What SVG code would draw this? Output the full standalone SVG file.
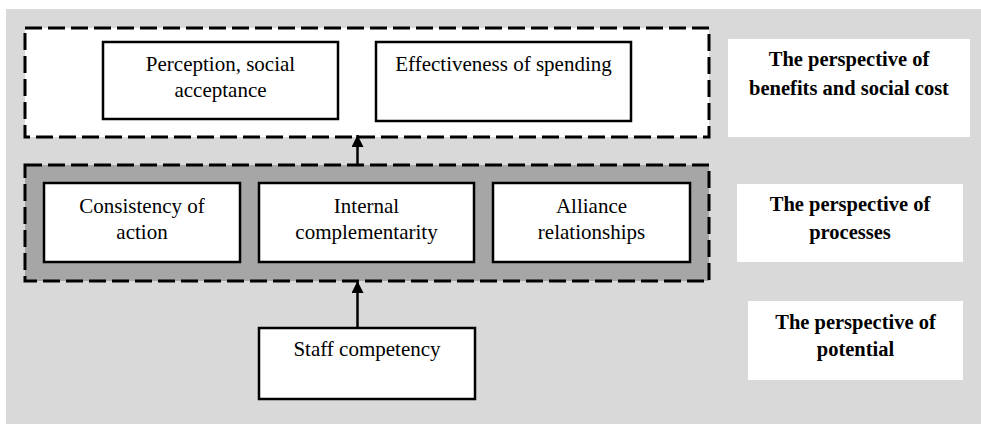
<svg xmlns="http://www.w3.org/2000/svg" width="981" height="424" viewBox="0 0 981 424">
<style>
.bg{fill:#d9d9d9}
.grp{stroke:#000;stroke-width:3;stroke-dasharray:17 6}
.box{fill:#fff;stroke:#000;stroke-width:2.5}
.lbl{fill:#fff;stroke:none}
text{font-family:"Liberation Serif","Times New Roman",serif;font-size:21px;fill:#000;text-anchor:middle}
.b{font-weight:bold;font-size:20.5px}
.conn{stroke:#000;stroke-width:2.5;fill:none}
</style>
<defs>
<marker id="ah" viewBox="0 0 12 12" refX="12" refY="6" markerWidth="12" markerHeight="12" markerUnits="userSpaceOnUse" orient="auto">
<path d="M0,0 L12,6 L0,12 Z" fill="#000"/>
</marker>
</defs>
<rect class="bg" x="6" y="9" width="975" height="415"/>
<g id="group-benefits">
<rect class="grp" x="25" y="28" width="684" height="109" fill="#fff"/>
</g>
<g id="group-processes">
<rect class="grp" x="25" y="165" width="684" height="116" fill="#a6a6a6"/>
</g>
<g id="n-perception">
<rect class="box" x="103" y="42" width="235" height="77"/>
<text x="220.5" y="71">Perception, social</text>
<text x="220.5" y="97">acceptance</text>
</g>
<g id="n-effectiveness">
<rect class="box" x="376" y="42" width="255" height="79"/>
<text x="503.5" y="71">Effectiveness of spending</text>
</g>
<g id="n-consistency">
<rect class="box" x="44" y="183" width="196" height="79"/>
<text x="142" y="213">Consistency of</text>
<text x="142" y="239">action</text>
</g>
<g id="n-internal">
<rect class="box" x="259" y="183" width="215" height="79"/>
<text x="366.5" y="213">Internal</text>
<text x="366.5" y="239">complementarity</text>
</g>
<g id="n-alliance">
<rect class="box" x="493" y="183" width="197" height="79"/>
<text x="591.5" y="213">Alliance</text>
<text x="591.5" y="239">relationships</text>
</g>
<g id="n-staff">
<rect class="box" x="259" y="328" width="216" height="71"/>
<text x="367" y="356">Staff competency</text>
</g>
<g id="l-benefits">
<rect class="lbl" x="728" y="39" width="242" height="98"/>
<text class="b" x="849" y="66">The perspective of</text>
<text class="b" x="849" y="95">benefits and social cost</text>
</g>
<g id="l-processes">
<rect class="lbl" x="737" y="184" width="226" height="78"/>
<text class="b" x="850" y="211">The perspective of</text>
<text class="b" x="850" y="239">processes</text>
</g>
<g id="l-potential">
<rect class="lbl" x="748" y="301" width="215" height="79"/>
<text class="b" x="855.5" y="329">The perspective of</text>
<text class="b" x="855.5" y="356">potential</text>
</g>
<g id="connectors">
<line class="conn" x1="357.5" y1="165" x2="357.5" y2="135" marker-end="url(#ah)"/>
<line class="conn" x1="357.5" y1="328" x2="357.5" y2="281" marker-end="url(#ah)"/>
</g>
</svg>
